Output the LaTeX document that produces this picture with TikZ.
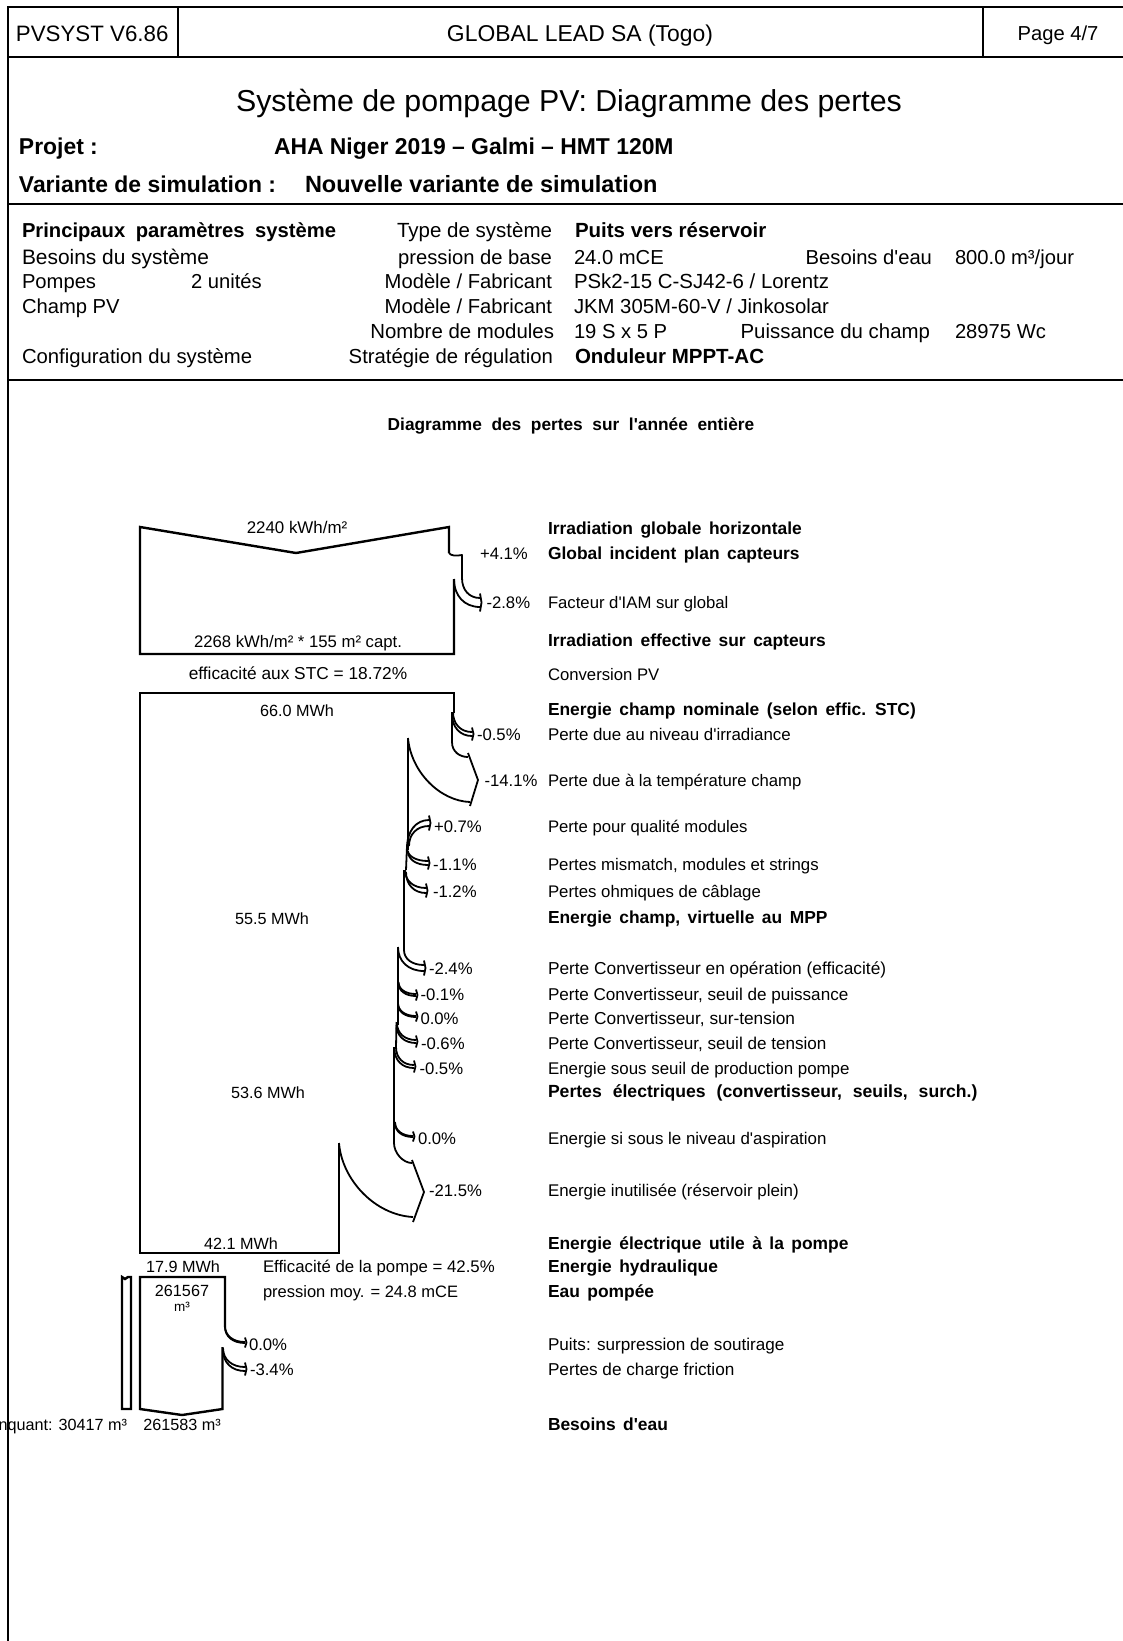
\documentclass[tikz,border=0pt]{standalone}
\usepackage{fontspec}
\setmainfont{Liberation Sans}
\newfontface\bfn{Liberation Sans Bold}
\newfontface\rg{Liberation Sans}
\newcommand\wsp[1]{\spaceskip #1pt\relax}
\newcommand\loss[7]{%
 \draw[flow] (#1,#2) .. controls (#1,{#2+0.6*(#6-#2)}) and ({#5-0.6*(#5-#1)},#6) .. (#5,#6);
 \draw[flow] (#3,#4) .. controls (#3,{#4+0.6*(#7-#4)}) and ({#5-0.6*(#5-#3)},#7) .. (#5,#7);
 \draw[flow] (#5,{#6-4.5}) -- ({#5+1.5},{0.5*(#6+#7)}) -- (#5,{#7+4.5});}
\tikzset{
 x=1pt,y=-1pt,
 frame/.style={line width=2.4pt,black},
 sep/.style={line width=1.6pt,black},
 box/.style={line width=2.4pt,black,line join=miter},
 flow/.style={line width=1.8pt,black,line join=round},
 txt/.style={inner sep=0pt,outer sep=0pt,anchor=base west,text=black},
 lab/.style={txt,font=\fontsize{#1}{18}\rg},
 lab/.default=16.7,
 blab/.style={txt,font=\fontsize{17.4}{18}\bfn},
 pct/.style={txt,font=\fontsize{16.7}{18}\rg},
 val/.style={txt,anchor=base,font=\fontsize{#1}{18}\rg},
 val/.default=16.2,
 par/.style={txt,font=\fontsize{#1}{22}\rg},
 par/.default=20.2,
 parr/.style={txt,anchor=base east,font=\fontsize{#1}{22}\rg},
 parr/.default=20.2,
 parb/.style={txt,font=\fontsize{20.5}{22}\bfn},
}
\begin{document}
\begin{tikzpicture}
\useasboundingbox (0,0) rectangle (1123,1641);
\fill[white] (0,0) rectangle (1123,1641);
% page frame
\draw[frame] (1123,7) -- (8,7) -- (8,1641);
\draw[frame] (8,57) -- (1123,57);
\draw[sep] (178,7) -- (178,57);
\draw[sep] (983,7) -- (983,57);
\draw[frame] (8,204) -- (1123,204);
\draw[frame] (8,380) -- (1123,380);
% header
\node[txt,font=\fontsize{22.3}{24}\rg] (h1) at (16,41) {PVSYST V6.86};
\node[txt,anchor=base,font=\fontsize{22.9}{24}\rg] (h2) at (580,41) {GLOBAL LEAD SA (Togo)};
\node[txt,anchor=base,font=\fontsize{20.2}{24}\rg] (h3) at (1058,40) {Page 4/7};
\node[txt,anchor=base,font=\fontsize{30.3}{32}\rg] (title) at (569,111) {Système de pompage PV: Diagramme des pertes};
\node[txt,font=\fontsize{22.9}{24}\bfn] (p1) at (19,154) {Projet :};
\node[txt,font=\fontsize{22.9}{24}\bfn] (p2) at (274,154) {AHA Niger 2019 – Galmi – HMT 120M};
\node[txt,font=\fontsize{22.9}{24}\bfn] (p3) at (19,192) {Variante de simulation :};
\node[txt,font=\fontsize{23.5}{24}\bfn] (p4) at (305,192) {Nouvelle variante de simulation};
% parameters
\node[txt,font=\fontsize{20.2}{22}\bfn] (a1) at (22,237) {\wsp{10.5}Principaux paramètres système};
\node[parr=20.5] (a2) at (552,237) {Type de système};
\node[parb] (a3) at (575,237) {Puits vers réservoir};
\node[par=20.9] (b1) at (22,264) {Besoins du système};
\node[parr] (b2) at (552,264) {pression de base};
\node[par] (b3) at (574,264) {24.0 mCE};
\node[parr] (b4) at (932,264) {Besoins d'eau};
\node[par] (b5) at (955,264) {800.0 m³/jour};
\node[par] (c1) at (22,288) {Pompes};
\node[par] (c2) at (191,288) {2 unités};
\node[parr] (c3) at (552,288) {Modèle / Fabricant};
\node[par=20.4] (c4) at (574,288) {PSk2-15 C-SJ42-6 / Lorentz};
\node[par] (d1) at (22,313) {Champ PV};
\node[parr] (d2) at (552,313) {Modèle / Fabricant};
\node[par=20.3] (d3) at (574,313) {JKM 305M-60-V / Jinkosolar};
\node[parr=20.4] (e1) at (554,338) {Nombre de modules};
\node[par] (e2) at (574,338) {19 S x 5 P};
\node[parr=20.4] (e3) at (930,338) {Puissance du champ};
\node[par] (e4) at (955,338) {28975 Wc};
\node[par=20.3] (f1) at (22,363) {Configuration du système};
\node[parr=20.3] (f2) at (553,363) {Stratégie de régulation};
\node[parb] (f3) at (575,363) {Onduleur MPPT-AC};
\node[txt,anchor=base,font=\fontsize{17.3}{18}\bfn] (dtitle) at (571,430.5) {\wsp{9.6}Diagramme des pertes sur l'année entière};
% top box
\draw[box] (449,553) -- (449,527) -- (296,553) -- (140,527) -- (140,654) -- (454,654) -- (454,579);
\draw[flow] (449,553) .. controls (451,556) and (456,556) .. (462,555) -- (462,578);
\loss{462}{578}{454}{579}{480}{598}{607}
% second box
\draw[box] (339,1143) -- (339,1253) -- (140,1253) -- (140,693) -- (454,693) -- (454,713);
\loss{453}{712}{452}{714}{472}{732}{736}
\draw[flow] (452,712) -- (452,742) .. controls (452,752) and (460,757) .. (468,757);
\draw[flow] (468,753) -- (478,780) -- (470,806);
\draw[flow] (408,738) .. controls (411,772) and (440,801) .. (470,802);
\draw[flow] (408,738) -- (408,850);
\loss{407}{848}{409}{846}{429}{820}{826}
\loss{407}{848}{408}{851}{428}{861}{865}
\draw[flow] (407,846) -- (406,870);
\draw[flow] (404,870) -- (404,950);
\loss{405}{870}{406}{872}{426}{888}{893}
\loss{404}{950}{398}{947}{424}{965}{971}
\draw[flow,line width=2.4pt] (398,947) -- (398,1025);
\draw[flow] (396.5,1022) -- (396,1048);
\draw[flow] (394,1047) -- (394,1143);
\loss{398.5}{982}{398.5}{983}{416}{994}{996}
\loss{398}{1003}{398}{1004}{416}{1016}{1017}
\loss{397}{1023}{396.5}{1025}{416}{1040}{1043}
\loss{396}{1047}{394.5}{1049}{414}{1065}{1068}
\loss{395}{1122}{395}{1123}{413}{1136}{1137}
\draw[flow] (394,1143) .. controls (394,1153) and (403,1163) .. (412,1163);
\draw[flow] (412,1160) -- (424,1192) -- (413,1222);
\draw[flow] (339,1143) .. controls (342,1180) and (375,1215) .. (413,1217);
% bottom box
\draw[box] (225,1327) -- (225,1277) -- (140,1277) -- (140,1409) -- (182,1415) -- (222.5,1409) -- (222.5,1347);
\loss{225}{1326}{225}{1327}{245}{1342}{1343}
\loss{223}{1348}{223}{1350}{245}{1367}{1371}
\draw[box] (122,1277) -- (125,1279) -- (128,1277) -- (131,1277) -- (131,1409) -- (122,1409) -- cycle;
% values
\node[val=16.9] (v1) at (297,533) {2240 kWh/m²};
\node[val=16.7] (v2) at (298,647) {2268 kWh/m² * 155 m² capt.};
\node[val=17.3] (v3) at (298,679) {efficacité aux STC = 18.72\%};
\node[val] (v4) at (297,716) {66.0 MWh};
\node[val] (v5) at (272,924) {55.5 MWh};
\node[val] (v6) at (268,1098) {53.6 MWh};
\node[val] (v7) at (241,1249) {42.1 MWh};
\node[val] (v8) at (183,1272) {17.9 MWh};
\node[lab=16.8] (v9) at (263,1272) {Efficacité de la pompe = 42.5\%};
\node[lab=16.5] (v10) at (263,1297) {pression moy. = 24.8 mCE};
\node[val] (v11) at (182,1296) {261567};
\node[val=13.5] (v12) at (182,1311) {m³};
\node[txt,anchor=base east,font=\fontsize{16.2}{18}\rg] (v13) at (127,1430) {nquant: 30417 m³};
\node[val] (v14) at (182,1430) {261583 m³};
% percentages
\node[pct] (q1) at (480,559.5) {+4.1\%};
\node[pct] (q2) at (486.5,608.5) {-2.8\%};
\node[pct] (q3) at (477,740.5) {-0.5\%};
\node[pct] (q4) at (484.5,786.5) {-14.1\%};
\node[pct] (q5) at (434,832.5) {+0.7\%};
\node[pct] (q6) at (433,870) {-1.1\%};
\node[pct] (q7) at (433,897.5) {-1.2\%};
\node[pct] (q8) at (429,974) {-2.4\%};
\node[pct] (q9) at (420.5,1000) {-0.1\%};
\node[pct] (q10) at (420.5,1024) {0.0\%};
\node[pct] (q11) at (421,1049) {-0.6\%};
\node[pct] (q12) at (419.5,1074.5) {-0.5\%};
\node[pct] (q13) at (418,1144.5) {0.0\%};
\node[pct] (q14) at (429,1196) {-21.5\%};
\node[pct] (q15) at (249,1350) {0.0\%};
\node[pct] (q16) at (250,1375) {-3.4\%};
% labels
\node[blab] (l1) at (548,534.5) {\wsp{7.5}Irradiation globale horizontale};
\node[blab] (l2) at (548,559.5) {\wsp{7.5}Global incident plan capteurs};
\node[lab] (l3) at (548,608.5) {Facteur d'IAM sur global};
\node[blab] (l4) at (548,646.5) {\wsp{7.5}Irradiation effective sur capteurs};
\node[lab] (l5) at (548,680) {Conversion PV};
\node[blab] (l6) at (548,715.5) {\wsp{7.5}Energie champ nominale (selon effic. STC)};
\node[lab=16.9] (l7) at (548,740.5) {Perte due au niveau d'irradiance};
\node[lab] (l8) at (548,786.5) {Perte due à la température champ};
\node[lab] (l9) at (548,832.5) {Perte pour qualité modules};
\node[lab=16.8] (l10) at (548,870) {Pertes mismatch, modules et strings};
\node[lab=16.8] (l11) at (548,897.5) {Pertes ohmiques de câblage};
\node[blab] (l12) at (548,923.5) {\wsp{7.5}Energie champ, virtuelle au MPP};
\node[lab=17.3] (l13) at (548,974) {Perte Convertisseur en opération (efficacité)};
\node[lab=17.1] (l14) at (548,1000) {Perte Convertisseur, seuil de puissance};
\node[lab=17.3] (l15) at (548,1024) {Perte Convertisseur, sur-tension};
\node[lab=17.1] (l16) at (548,1049) {Perte Convertisseur, seuil de tension};
\node[lab=16.9] (l17) at (548,1074.5) {Energie sous seuil de production pompe};
\node[txt,font=\fontsize{17.6}{18}\bfn] (l18) at (548,1097.5) {\wsp{11}Pertes électriques (convertisseur, seuils, surch.)};
\node[lab=16.9] (l19) at (548,1144.5) {Energie si sous le niveau d'aspiration};
\node[lab=16.9] (l20) at (548,1196) {Energie inutilisée (réservoir plein)};
\node[blab] (l21) at (548,1249) {\wsp{7.5}Energie électrique utile à la pompe};
\node[blab] (l22) at (548,1272) {\wsp{7.5}Energie hydraulique};
\node[blab] (l23) at (548,1297) {\wsp{7.5}Eau pompée};
\node[lab=17.1] (l24) at (548,1350) {Puits: surpression de soutirage};
\node[lab=17.2] (l25) at (548,1375) {Pertes de charge friction};
\node[blab] (l26) at (548,1430) {\wsp{7.5}Besoins d'eau};
\end{tikzpicture}
\end{document}
